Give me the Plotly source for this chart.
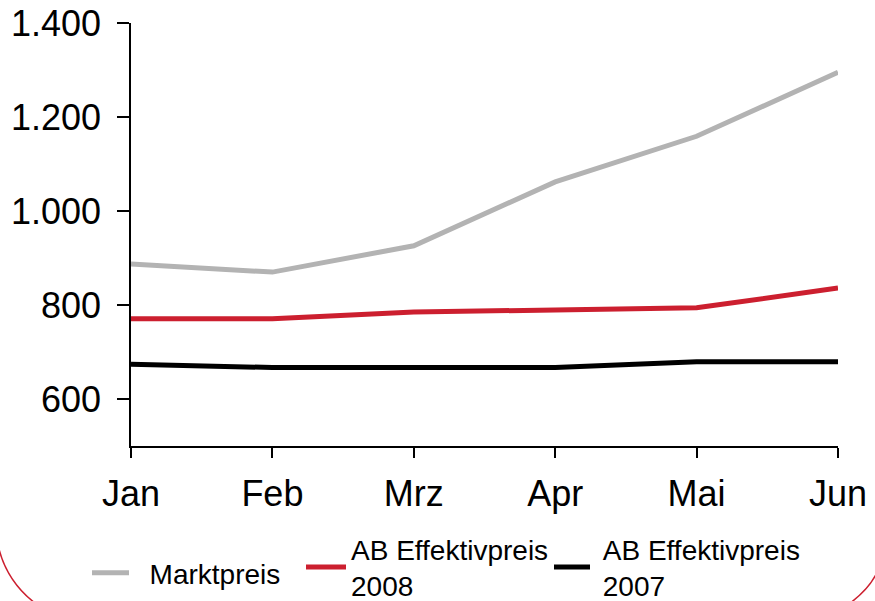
import plotly.graph_objects as go

months = ["Jan", "Feb", "Mrz", "Apr", "Mai", "Jun"]
marktpreis = [887, 870, 926, 1062, 1159, 1295]
ab_2008 = [771, 771, 785, 789, 794, 836]
ab_2007 = [674, 667, 667, 667, 679, 679]
y_ticks = [600, 800, 1000, 1200, 1400]
y_ticktext = ["600", "800", "1.000", "1.200", "1.400"]

W, H = 875, 601
ML, MR, MT, MB = 131, 37, 23, 155
PW, PH = W - ML - MR, H - MT - MB

def px(x, y):
    return ((x - ML) / PW, (H - MB - y) / PH)

FONT = "Liberation Sans, Arial, sans-serif"
NB = "\u00a0"

fig = go.Figure()
series = [
    (NB * 2 + "Marktpreis", marktpreis, "#b3b3b3", "legend"),
    ("AB Effektivpreis<br>2008", ab_2008, "#cc1f2f", "legend2"),
    (NB + "AB Effektivpreis<br>" + NB + "2007", ab_2007, "#000000", "legend3"),
]
for name, vals, col, lg in series:
    fig.add_trace(go.Scatter(x=months, y=vals, name=name, mode="lines",
                             line=dict(color=col, width=5), cliponaxis=False,
                             legend=lg))

def arc(p0, p1, p2):
    a, b, c = px(*p0), px(*p1), px(*p2)
    return f"M {a[0]},{a[1]} Q {b[0]},{b[1]} {c[0]},{c[1]}"

shapes = [
    dict(type="path", xref="paper", yref="paper",
         path=arc((-3, 540), (5, 585), (45, 610)),
         line=dict(color="#cc1f2f", width=1.5)),
    dict(type="path", xref="paper", yref="paper",
         path=arc((880, 565), (872, 590), (840, 610)),
         line=dict(color="#cc1f2f", width=1.5)),
]

def leg(sym_x, sym_y, itemwidth):
    return dict(orientation="h", x=px(sym_x - 5, 0)[0], xanchor="left",
                y=px(0, sym_y)[1], yanchor="middle",
                font=dict(size=28), bgcolor="rgba(0,0,0,0)",
                itemwidth=itemwidth, borderwidth=0)

fig.update_layout(
    width=W, height=H,
    margin=dict(l=ML, r=MR, t=MT, b=MB, autoexpand=False),
    paper_bgcolor="white", plot_bgcolor="white",
    font=dict(family=FONT, size=36, color="#000000"),
    shapes=shapes,
    xaxis=dict(type="category", range=[0, 5], showgrid=False, zeroline=False,
               showline=True, linecolor="#000000", linewidth=1.5,
               ticks="outside", ticklen=10, tickwidth=1.5, tickcolor="#000000",
               tickfont=dict(size=36), automargin=False, ticklabelstandoff=5),
    yaxis=dict(range=[500, 1400], showgrid=False, zeroline=False,
               showline=True, linecolor="#000000", linewidth=1.5,
               ticks="outside", ticklen=12, tickwidth=1.5, tickcolor="#000000",
               tickvals=y_ticks, ticktext=y_ticktext, tickfont=dict(size=36),
               automargin=False, ticklabelstandoff=9),
    showlegend=True,
    legend=leg(92, 573, 37),
    legend2=leg(306, 567, 40),
    legend3=leg(554, 567, 36),
)

fig.write_html("out.html", config={"displayModeBar": False},
               post_script="document.body.style.margin='0px';")
